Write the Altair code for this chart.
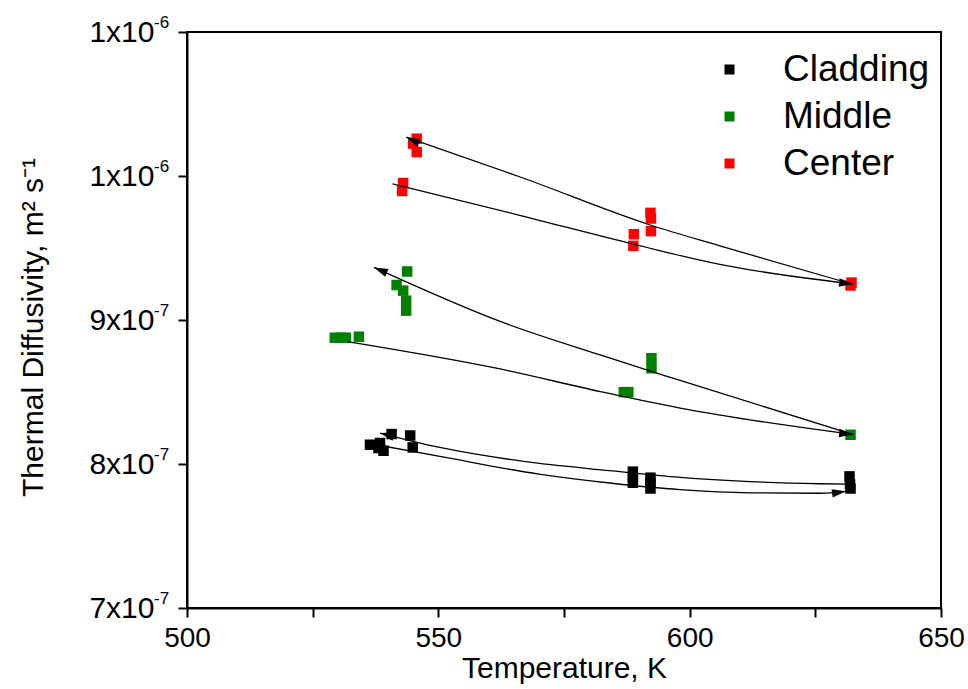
import altair as alt
import pandas as pd

FONT = "Liberation Sans, Arial, sans-serif"
UNIT = 1e-7  # diffusivity lists below are in units of 1e-7 m^2/s

series_names = ["Cladding", "Middle", "Center"]
series_colors = ["#000000", "#008000", "#ff0000"]

# ---- measured points ----
clad_T = [536.4, 538.1, 538.4, 539.1, 540.7, 544.4, 544.9,
          588.7, 588.7, 588.7, 592.2, 592.2, 592.2, 631.8, 631.9, 632.0]
clad_D = [8.134, 8.111, 8.146, 8.092, 8.208, 8.198, 8.115,
          7.947, 7.91, 7.87, 7.905, 7.87, 7.83, 7.914, 7.86, 7.83]

mid_T = [529.4, 530.6, 531.6, 534.2, 541.7, 543.0, 543.6, 543.6, 543.8,
         586.9, 587.8, 592.4, 592.4, 632.0]
mid_D = [8.877, 8.877, 8.877, 8.884, 9.243, 9.204, 9.134, 9.065, 9.337,
         8.499, 8.499, 8.735, 8.665, 8.203]

cen_T = [542.8, 543.0, 545.0, 545.7, 545.7, 588.8, 588.9, 592.2, 592.3, 592.3,
         632.0, 632.2]
cen_D = [9.896, 9.951, 10.225, 10.259, 10.166, 9.515, 9.596, 9.744, 9.705, 9.617,
         9.24, 9.26]

# ---- guide curves (heating / cooling paths) ----
curve_ids = ["clad_up", "clad_low", "mid_up", "mid_low", "cen_up", "cen_low"]
curve_T = [
    [538.4, 550.3, 567.0, 584.1, 598.1, 612.0, 625.9, 631.5],
    [539.0, 550.3, 570.0, 584.1, 598.1, 612.0, 625.9, 631.1],
    [537.2, 562.3, 582.2, 598.1, 632.5],
    [531.9, 562.3, 582.2, 598.1, 632.5],
    [543.6, 566.3, 592.3, 606.0, 632.2],
    [540.9, 566.2, 588.8, 606.0, 632.5],
]
curve_D = [
    [8.215, 8.115, 8.018, 7.954, 7.907, 7.878, 7.863, 7.86],
    [8.125, 8.053, 7.93, 7.868, 7.822, 7.80, 7.797, 7.81],
    [9.365, 8.99, 8.757, 8.58, 8.205],
    [8.85, 8.66, 8.503, 8.388, 8.205],
    [10.27, 9.993, 9.658, 9.515, 9.25],
    [9.945, 9.727, 9.527, 9.386, 9.25],
]

# ---- arrow heads (tip position and direction, degrees clockwise from "pointing left") ----
arrow_T = [538.4, 631.1, 537.2, 632.5, 543.6, 632.5]
arrow_D = [8.215, 7.81, 9.365, 8.205, 10.27, 9.25]
arrow_angle = [15, 172, 23, 186, 25, 186]

# ---- axis ticks ----
x_ticks = [500, 525, 550, 575, 600, 625, 650]
y_tick_keys = [70, 80, 90, 100, 110]
y_tick_base = ["7x10", "8x10", "9x10", "1x10", "1x10"]
y_tick_exp = ["-7", "-7", "-7", "-6", "-6"]

# ---- build tables ----
rows = []
for name, Ts, Ds in zip(series_names, [clad_T, mid_T, cen_T], [clad_D, mid_D, cen_D]):
    for t, d in zip(Ts, Ds):
        rows.append({"T": t, "D": d * UNIT, "series": name})
pts = pd.DataFrame(rows)

crows = []
for cid, Ts, Ds in zip(curve_ids, curve_T, curve_D):
    for t, d in zip(Ts, Ds):
        crows.append({"T": t, "D": d * UNIT, "curve": cid})
curves = pd.DataFrame(crows)

arrows = pd.DataFrame({"T": arrow_T, "D": [d * UNIT for d in arrow_D], "angle": arrow_angle})

sups = pd.DataFrame({"D": [k * 1e-8 for k in y_tick_keys], "sup": y_tick_exp})

y_expr = " : ".join(
    f"round(datum.value*1e8)=={k} ? '{lab}'" for k, lab in zip(y_tick_keys, y_tick_base)
) + " : ''"

x_enc = alt.X(
    "T:Q",
    scale=alt.Scale(domain=[500, 650], nice=False, zero=False),
    axis=alt.Axis(
        values=x_ticks,
        labelExpr="datum.value % 50 == 0 ? datum.value : ''",
        title="Temperature, K",
        titleX=377,
        titleY=60,
        titleBaseline="middle",
        labelPadding=7,
    ),
)
y_enc = alt.Y(
    "D:Q",
    scale=alt.Scale(domain=[7e-7, 1.1e-6], nice=False, zero=False),
    axis=alt.Axis(
        values=[k * 1e-8 for k in y_tick_keys],
        labelExpr=y_expr,
        labelFontSize=30,
        title="Thermal Diffusivity, m² s⁻¹",
        titleAngle=270,
        titleX=-154,
        titleY=295,
        titleAlign="center",
        titleBaseline="middle",
        labelPadding=24,
    ),
)

points = alt.Chart(pts).mark_square(size=110, opacity=1).encode(
    x=x_enc,
    y=y_enc,
    color=alt.Color(
        "series:N",
        scale=alt.Scale(domain=series_names, range=series_colors),
        legend=alt.Legend(
            orient="none",
            legendX=524,
            legendY=19,
            title=None,
            labelFontSize=37,
            labelFont=FONT,
            labelColor="black",
            symbolType="square",
            symbolSize=100,
            symbolStrokeWidth=0,
            labelOffset=35,
            rowPadding=9,
            padding=0,
        ),
    ),
)

lines = alt.Chart(curves).mark_line(color="black", strokeWidth=1.3, interpolate="monotone").encode(
    x="T:Q", y="D:Q", detail="curve:N"
)

heads = alt.Chart(arrows).mark_point(
    shape="M0,0 L2,-0.6 L2,0.6 Z", filled=True, size=196, color="black", opacity=1
).encode(x="T:Q", y="D:Q", angle=alt.Angle("angle:Q", scale=None))

exps = alt.Chart(sups).mark_text(
    align="left", baseline="alphabetic", font=FONT, fontSize=17, color="black", dy=-4
).encode(y="D:Q", x=alt.value(-33), text="sup:N")

chart = (
    alt.layer(points, lines, heads, exps)
    .properties(
        width=754,
        height=576,
        autosize=alt.AutoSizeParams(type="none"),
        padding={"left": 187, "top": 32, "right": 27, "bottom": 81},
        background="white",
    )
    .configure_view(stroke="black", strokeWidth=2)
    .configure_axis(
        grid=False,
        domainColor="black",
        domainWidth=2,
        tickColor="black",
        tickWidth=2,
        tickSize=9,
        labelFont=FONT,
        labelFontSize=28,
        labelColor="black",
        labelFlush=False,
        labelOverlap=False,
        titleFont=FONT,
        titleFontSize=30,
        titleFontWeight="normal",
        titleColor="black",
    )
)

chart.save("out.html", embed_options={"renderer": "svg", "actions": False})
